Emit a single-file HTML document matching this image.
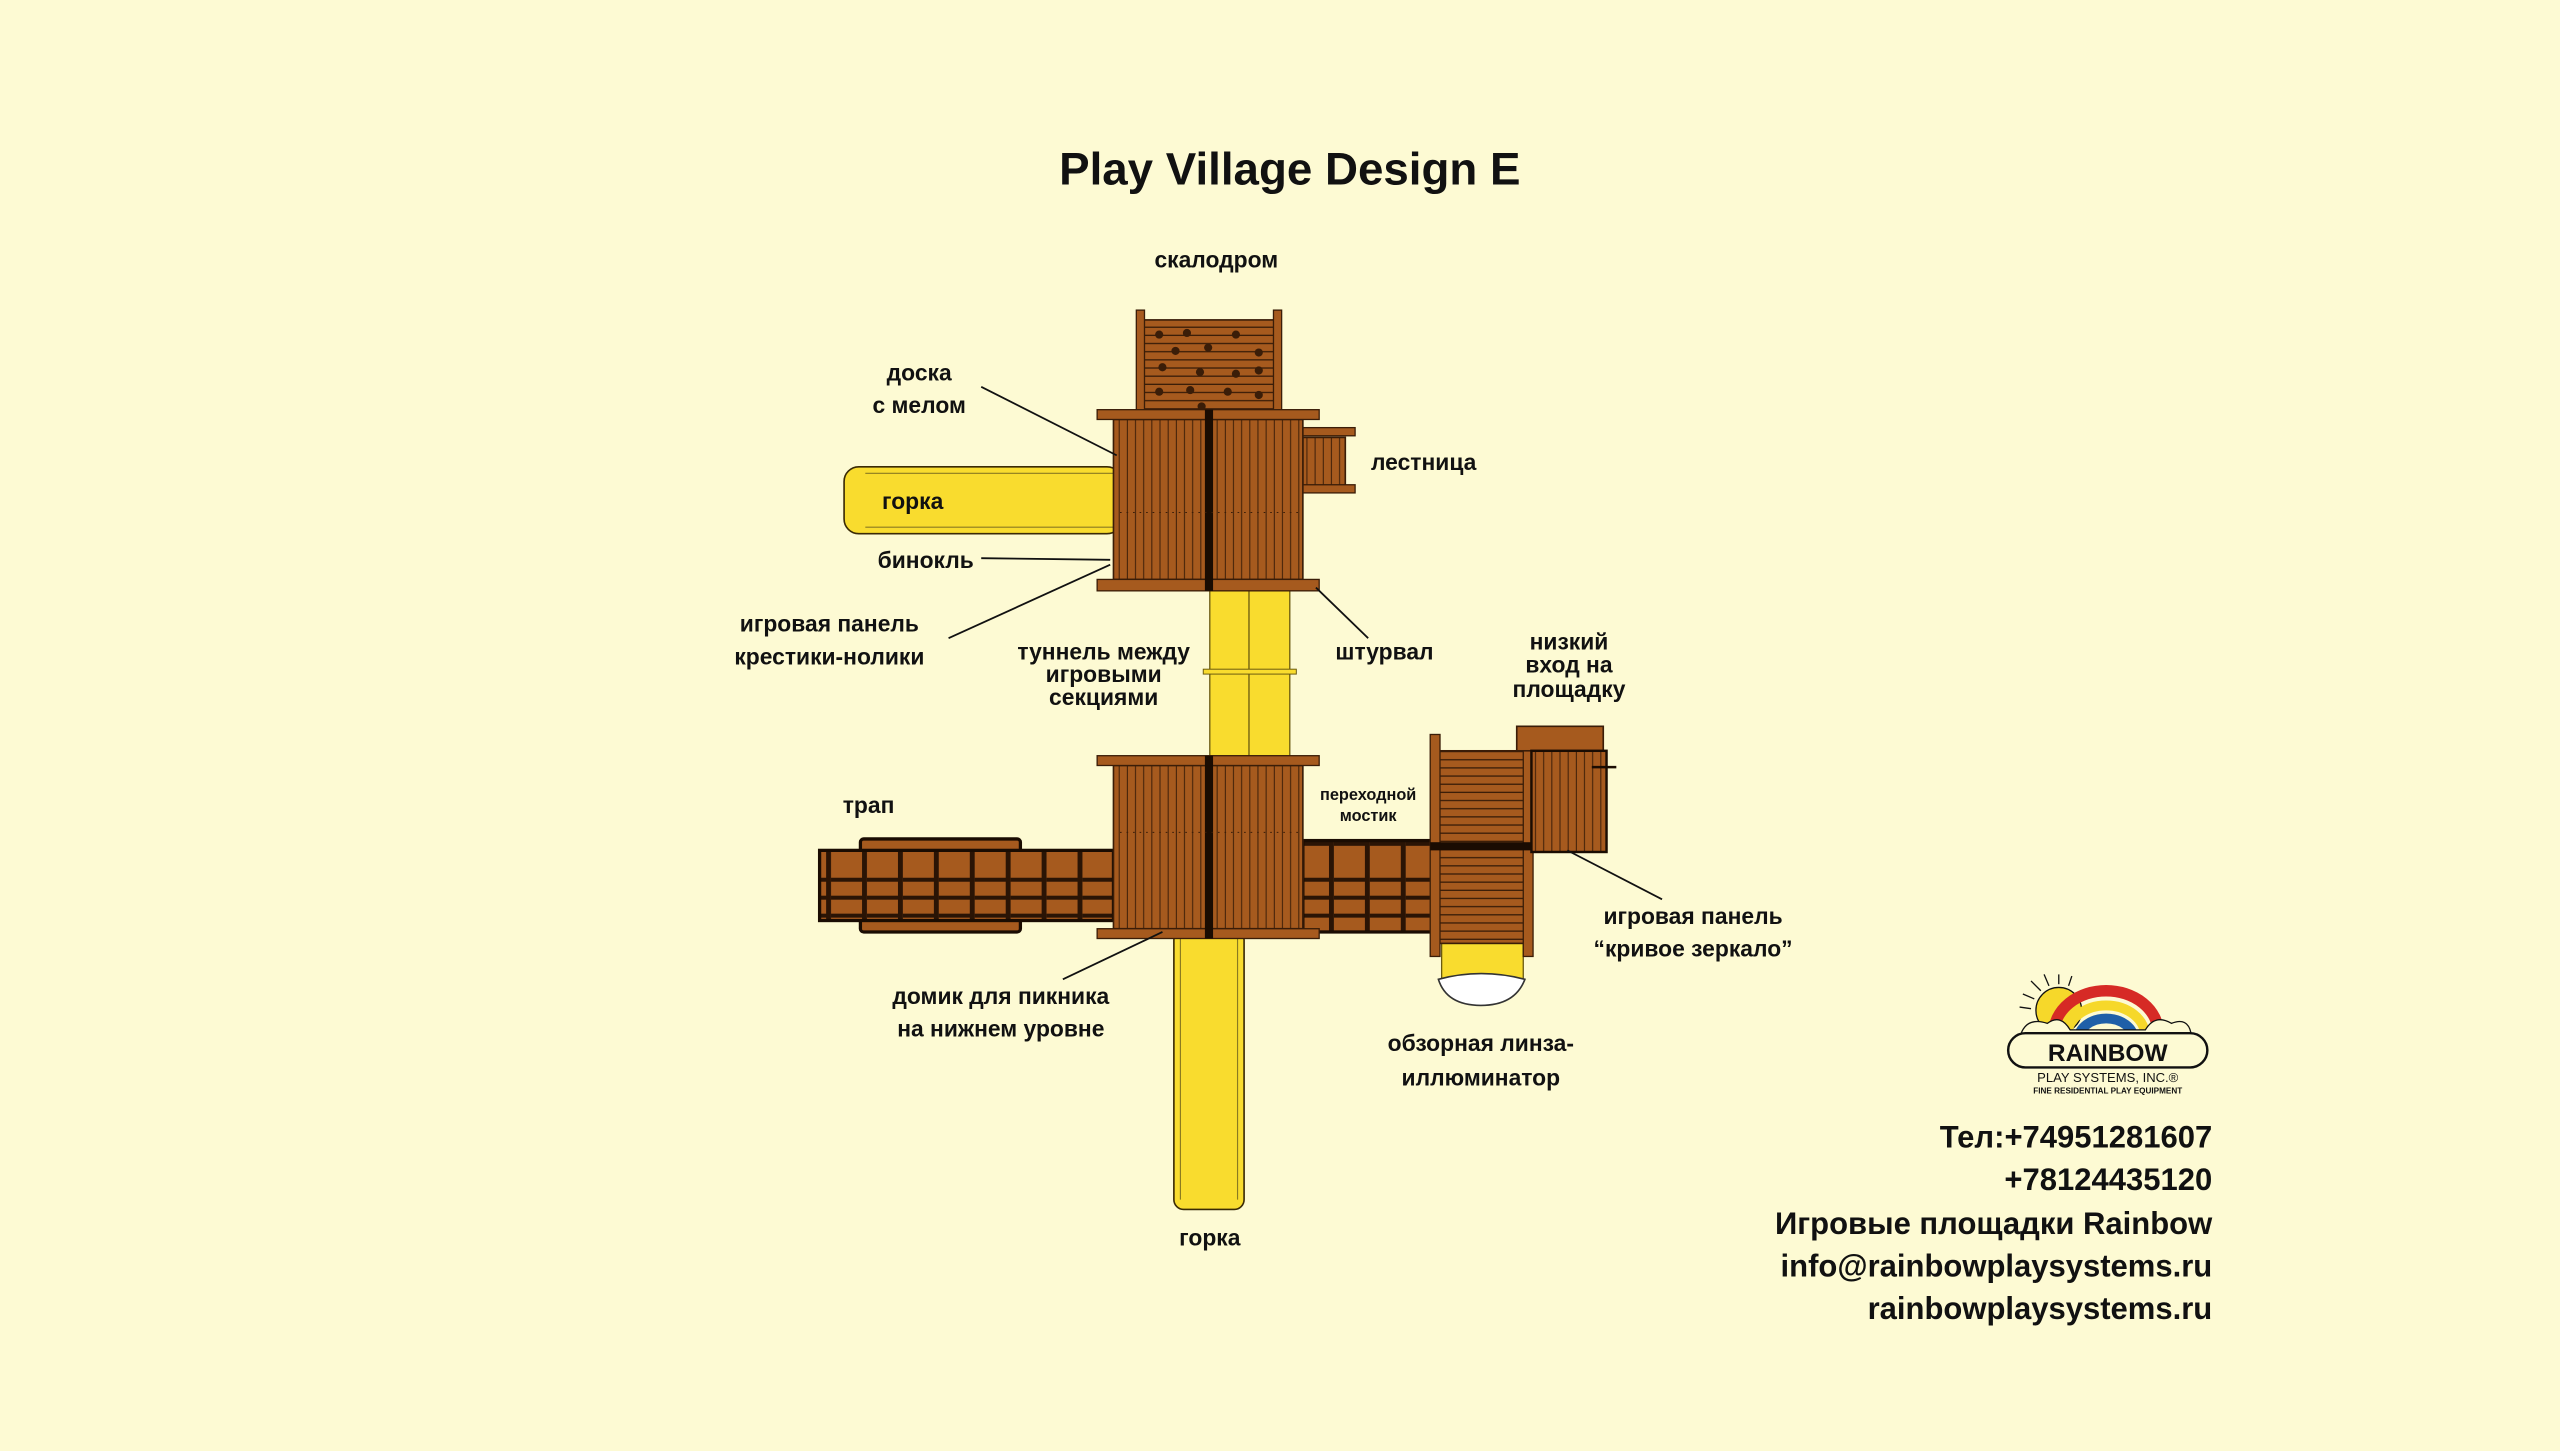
<!DOCTYPE html>
<html><head><meta charset="utf-8"><style>
html,body{margin:0;padding:0;background:#fdfad3;}
svg{display:block}
text{font-family:"Liberation Sans","DejaVu Sans",sans-serif;font-weight:bold;fill:#111;}
</style></head><body>
<svg width="2560" height="1451" viewBox="0 0 1568 889" preserveAspectRatio="none" xmlns="http://www.w3.org/2000/svg">
<defs>
<pattern id="vp" width="5" height="10" patternUnits="userSpaceOnUse"><rect width="5" height="10" fill="#a65a1e"/><line x1="0.5" y1="0" x2="0.5" y2="10" stroke="#3a1d08" stroke-width="0.6"/></pattern>
<pattern id="hp" width="10" height="5" patternUnits="userSpaceOnUse"><rect width="10" height="5" fill="#a65a1e"/><line x1="0" y1="0.5" x2="10" y2="0.5" stroke="#3a1d08" stroke-width="0.8"/></pattern>
<pattern id="tp" width="22" height="44" patternUnits="userSpaceOnUse"><rect width="22" height="44" fill="#a65a1e"/><rect x="0" y="0" width="3" height="44" fill="#2a1405"/><line x1="3" y1="11" x2="22" y2="11" stroke="#2a1405" stroke-width="2.5"/><line x1="3" y1="22" x2="22" y2="22" stroke="#2a1405" stroke-width="2.5"/><line x1="3" y1="33" x2="22" y2="33" stroke="#2a1405" stroke-width="2.5"/></pattern>
</defs>
<rect width="1568" height="889" fill="#fdfad3"/>
<text x="790" y="113" font-size="28" text-anchor="middle">Play Village Design E</text>

<!-- top slide -->
<rect x="517" y="286" width="170" height="41" rx="9" fill="#f9dc2e" stroke="#3a2a05" stroke-width="1"/>
<line x1="530" y1="290" x2="682" y2="290" stroke="#8a7a20" stroke-width="0.7"/>
<line x1="530" y1="323" x2="682" y2="323" stroke="#8a7a20" stroke-width="0.7"/>
<!-- climbing wall -->
<rect x="699" y="196" width="84" height="56" fill="url(#hp)" stroke="#3a1d08"/>
<rect x="696" y="190" width="5" height="62" fill="#a65a1e" stroke="#3a1d08" stroke-width="0.8"/>
<rect x="780" y="190" width="5" height="62" fill="#a65a1e" stroke="#3a1d08" stroke-width="0.8"/>
<g fill="#3a1d08">
<circle cx="710" cy="205" r="2.5"/><circle cx="727" cy="204" r="2.5"/><circle cx="757" cy="205" r="2.5"/><circle cx="740" cy="213" r="2.5"/><circle cx="720" cy="215" r="2.5"/><circle cx="771" cy="216" r="2.5"/><circle cx="712" cy="225" r="2.5"/><circle cx="735" cy="228" r="2.5"/><circle cx="757" cy="229" r="2.5"/><circle cx="771" cy="227" r="2.5"/><circle cx="710" cy="240" r="2.5"/><circle cx="729" cy="239" r="2.5"/><circle cx="752" cy="240" r="2.5"/><circle cx="771" cy="242" r="2.5"/><circle cx="736" cy="249" r="2.5"/>
</g>
<!-- ladder -->
<rect x="798" y="268" width="26" height="30" fill="url(#vp)" stroke="#3a1d08"/>
<rect x="798" y="262" width="32" height="5" fill="#a65a1e" stroke="#3a1d08" stroke-width="0.8"/>
<rect x="798" y="297" width="32" height="5" fill="#a65a1e" stroke="#3a1d08" stroke-width="0.8"/>
<!-- tunnel -->
<rect x="741" y="362" width="49" height="104" fill="#f9dc2e" stroke="#6a5a10" stroke-width="0.8"/>
<line x1="765" y1="362" x2="765" y2="466" stroke="#6a5a10" stroke-width="0.8"/>
<rect x="737" y="410" width="57" height="3" fill="#f9dc2e" stroke="#6a5a10" stroke-width="0.6"/>
<!-- upper deck -->
<rect x="682" y="257" width="116" height="98" fill="url(#vp)" stroke="#3a1d08"/>
<rect x="672" y="251" width="136" height="6" fill="#a65a1e" stroke="#3a1d08" stroke-width="0.8"/>
<rect x="672" y="355" width="136" height="7" fill="#a65a1e" stroke="#3a1d08" stroke-width="0.8"/>
<rect x="738" y="251" width="5" height="111" fill="#1a0c02"/>
<line x1="686" y1="314" x2="795" y2="314" stroke="#3a1d08" stroke-width="0.6" stroke-dasharray="1,3"/>
<!-- bottom slide -->
<rect x="719" y="570" width="43" height="171" rx="6" fill="#f9dc2e" stroke="#3a2a05" stroke-width="1"/>
<line x1="723" y1="575" x2="723" y2="735" stroke="#8a7a20" stroke-width="0.7"/>
<line x1="758" y1="575" x2="758" y2="735" stroke="#8a7a20" stroke-width="0.7"/>
<!-- trap -->
<rect x="527" y="514" width="98" height="57" rx="2" fill="#a65a1e" stroke="#1a0c02" stroke-width="2"/>
<rect x="502" y="521" width="180" height="43" fill="url(#tp)" stroke="#1a0c02" stroke-width="2"/>
<!-- bridge -->
<rect x="798" y="515" width="79" height="56" fill="url(#tp)" stroke="#1a0c02" stroke-width="2"/>
<!-- lower deck -->
<rect x="682" y="469" width="116" height="100" fill="url(#vp)" stroke="#3a1d08"/>
<rect x="672" y="463" width="136" height="6" fill="#a65a1e" stroke="#3a1d08" stroke-width="0.8"/>
<rect x="672" y="569" width="136" height="6" fill="#a65a1e" stroke="#3a1d08" stroke-width="0.8"/>
<rect x="738" y="463" width="5" height="112" fill="#1a0c02"/>
<line x1="686" y1="510" x2="795" y2="510" stroke="#3a1d08" stroke-width="0.6" stroke-dasharray="1,3"/>
<!-- bubble -->
<rect x="883" y="575" width="50" height="25" fill="#f9dc2e" stroke="#6a5a10" stroke-width="0.8"/>
<path d="M881 600 Q907 593 934 600 Q928 616 907 616 Q886 616 881 600Z" fill="#fff" stroke="#333" stroke-width="1"/>
<!-- right tower -->
<rect x="881" y="460" width="54" height="118" fill="url(#hp)" stroke="#3a1d08"/>
<rect x="876" y="450" width="6" height="136" fill="#a65a1e" stroke="#3a1d08" stroke-width="0.8"/>
<rect x="933" y="457" width="6" height="129" fill="#a65a1e" stroke="#3a1d08" stroke-width="0.8"/>
<rect x="876" y="516" width="108" height="5" fill="#1a0c02"/>
<rect x="929" y="445" width="53" height="15" fill="#a65a1e" stroke="#3a1d08"/>
<rect x="938" y="460" width="46" height="62" fill="url(#vp)" stroke="#1a0c02" stroke-width="1.5"/>
<line x1="975" y1="470" x2="990" y2="470" stroke="#1a0c02" stroke-width="1.5"/>
<!-- leader lines -->
<g stroke="#111" stroke-width="1.1" fill="none">
<line x1="601" y1="237" x2="684" y2="279"/>
<line x1="601" y1="342" x2="680" y2="343"/>
<line x1="581" y1="391" x2="680" y2="346"/>
<line x1="838" y1="391" x2="806" y2="360"/>
<line x1="651" y1="600" x2="712" y2="571"/>
<line x1="1018" y1="551" x2="960" y2="521"/>
</g>
<!-- labels -->
<g font-size="14" text-anchor="middle">
<text x="745" y="164">скалодром</text>
<text x="563" y="233">доска</text>
<text x="563" y="253">с мелом</text>
<text x="559" y="312">горка</text>
<text x="872" y="288">лестница</text>
<text x="567" y="348">бинокль</text>
<text x="508" y="387">игровая панель</text>
<text x="508" y="407">крестики-нолики</text>
<text x="676" y="404">туннель между</text>
<text x="676" y="418">игровыми</text>
<text x="676" y="432">секциями</text>
<text x="848" y="404">штурвал</text>
<text x="961" y="398">низкий</text>
<text x="961" y="412">вход на</text>
<text x="961" y="427">площадку</text>
<text x="532" y="498">трап</text>
<text x="838" y="490" font-size="10">переходной</text>
<text x="838" y="503" font-size="10">мостик</text>
<text x="1037" y="566">игровая панель</text>
<text x="1037" y="586">“кривое зеркало”</text>
<text x="613" y="615">домик для пикника</text>
<text x="613" y="635">на нижнем уровне</text>
<text x="907" y="644">обзорная линза-</text>
<text x="907" y="665">иллюминатор</text>
<text x="741" y="763">горка</text>
</g>
<!-- logo -->
<g transform="translate(1228,597)">
<g stroke="#111" stroke-width="0.8"><line x1="22" y1="10" x2="16" y2="4"/><line x1="27" y1="7" x2="24" y2="0"/><line x1="33" y1="6" x2="33" y2="0"/><line x1="39" y1="7" x2="41" y2="1"/><line x1="18" y1="15" x2="11" y2="12"/><line x1="16" y1="21" x2="9" y2="20"/></g>
<circle cx="33" cy="22" r="14" fill="#f6d82a" stroke="#111" stroke-width="0.8"/>
<path d="M30 36 A32 26 0 0 1 94 36" fill="none" stroke="#d62a25" stroke-width="7"/>
<path d="M38 38 A24 19 0 0 1 86 38" fill="none" stroke="#f6d82a" stroke-width="6"/>
<path d="M45 40 A17 13 0 0 1 79 40" fill="none" stroke="#1f5fa8" stroke-width="6"/>
<path d="M10 36 Q14 26 26 30 Q34 24 40 34 L86 34 Q92 24 102 30 Q112 26 114 36 Z" fill="#fdfad3" stroke="#111" stroke-width="0.8"/>
<rect x="2" y="36" width="122" height="21" rx="10.5" fill="#fdfad3" stroke="#111" stroke-width="1.5"/>
<text x="63" y="53" font-size="15" text-anchor="middle" style="font-weight:900">RAINBOW</text>
<text x="63" y="66" font-size="8" text-anchor="middle" style="font-weight:normal">PLAY SYSTEMS, INC.®</text>
<text x="63" y="73" font-size="5" text-anchor="middle">FINE RESIDENTIAL PLAY EQUIPMENT</text>
</g>
<!-- contacts -->
<g font-size="19" text-anchor="end">
<text x="1355" y="703">Тел:+74951281607</text>
<text x="1355" y="729">+78124435120</text>
<text x="1355" y="756">Игровые площадки Rainbow</text>
<text x="1355" y="782">info@rainbowplaysystems.ru</text>
<text x="1355" y="808">rainbowplaysystems.ru</text>
</g>
</svg>
</body></html>
